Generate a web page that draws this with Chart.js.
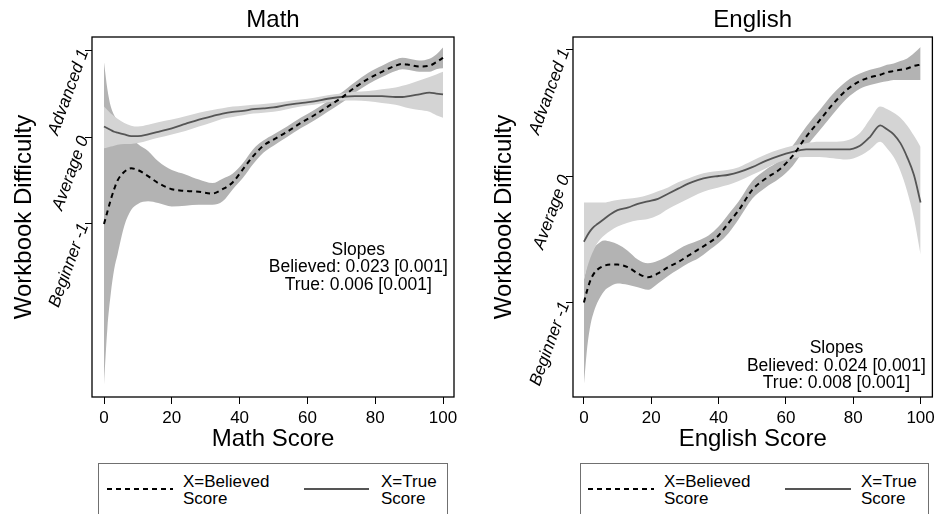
<!DOCTYPE html>
<html>
<head>
<meta charset="utf-8">
<script src="https://cdn.jsdelivr.net/npm/chart.js"></script>
<style>
    body { margin: 0; width: 939px; height: 514px; overflow: hidden; background: #fff; position: relative; font-family: 'Liberation Sans', Arial, Helvetica, sans-serif; }
    canvas { position: absolute; top: 0; }
    .leyenda { position: absolute; top: 463px; height: 70px; border: 1.5px solid #707070; box-sizing: border-box; }
    .leyenda svg { position: absolute; top: 0; left: 0; }
    .item { position: absolute; top: 9px; font-size: 17px; line-height: 17px; color: #000; }
</style>
</head>
<body>
<canvas id="ChartMath" width="470" height="455" style="left:0"></canvas>
<canvas id="ChartEnglish" width="469" height="455" style="left:470px"></canvas>

<div class="leyenda" style="left:98px; width:350px;">
    <svg width="350" height="60">
        <line x1="8" y1="25" x2="74" y2="25" stroke="#000" stroke-width="2" stroke-dasharray="5,4"></line>
        <line x1="205" y1="25" x2="270" y2="25" stroke="#555" stroke-width="2"></line>
    </svg>
    <div class="item" style="left:84px">X=Believed<br>Score</div>
    <div class="item" style="left:282px">X=True<br>Score</div>
</div>
<div class="leyenda" style="left:580px; width:349px;">
    <svg width="349" height="60">
        <line x1="7" y1="25" x2="73" y2="25" stroke="#000" stroke-width="2" stroke-dasharray="5,4"></line>
        <line x1="204" y1="25" x2="270" y2="25" stroke="#555" stroke-width="2"></line>
    </svg>
    <div class="item" style="left:83px">X=Believed<br>Score</div>
    <div class="item" style="left:280px">X=True<br>Score</div>
</div>

<script>
// Datos del panel Math
const mathX = [0, 1, 2, 3, 4, 6, 8, 10, 13, 16, 20, 24, 28, 32, 35, 38, 41, 44, 47, 50, 54, 58, 62, 66, 70, 74, 78, 82, 86, 88, 90, 93, 96, 98, 100];
const mathBelieved = [-1.00, -0.86, -0.72, -0.60, -0.50, -0.40, -0.36, -0.38, -0.45, -0.53, -0.60, -0.62, -0.63, -0.65, -0.60, -0.52, -0.37, -0.22, -0.10, -0.03, 0.06, 0.16, 0.25, 0.35, 0.45, 0.57, 0.67, 0.75, 0.82, 0.84, 0.83, 0.81, 0.82, 0.86, 0.91];
const mathBelievedHi = [0.86, 0.55, 0.35, 0.25, 0.18, 0.08, 0.00, -0.08, -0.16, -0.28, -0.38, -0.43, -0.49, -0.53, -0.48, -0.42, -0.30, -0.14, -0.04, 0.03, 0.12, 0.22, 0.31, 0.41, 0.51, 0.63, 0.74, 0.82, 0.89, 0.91, 0.90, 0.88, 0.90, 0.95, 1.03];
const mathBelievedLo = [-2.85, -2.20, -1.80, -1.52, -1.35, -1.02, -0.84, -0.77, -0.74, -0.76, -0.80, -0.79, -0.78, -0.78, -0.74, -0.60, -0.47, -0.31, -0.18, -0.10, 0.00, 0.10, 0.19, 0.29, 0.39, 0.51, 0.61, 0.69, 0.76, 0.78, 0.77, 0.75, 0.75, 0.78, 0.79];
const mathTrue = [0.12, 0.10, 0.08, 0.06, 0.05, 0.03, 0.01, 0.01, 0.03, 0.06, 0.10, 0.15, 0.20, 0.24, 0.27, 0.29, 0.30, 0.32, 0.33, 0.34, 0.37, 0.39, 0.41, 0.44, 0.46, 0.47, 0.47, 0.47, 0.46, 0.46, 0.47, 0.49, 0.51, 0.50, 0.49];
const mathTrueHi = [0.35, 0.31, 0.27, 0.24, 0.21, 0.16, 0.13, 0.12, 0.14, 0.17, 0.20, 0.24, 0.28, 0.31, 0.33, 0.35, 0.36, 0.37, 0.38, 0.39, 0.41, 0.43, 0.45, 0.48, 0.50, 0.52, 0.53, 0.55, 0.57, 0.59, 0.61, 0.65, 0.69, 0.72, 0.75];
const mathTrueLo = [-0.13, -0.12, -0.11, -0.10, -0.09, -0.08, -0.08, -0.07, -0.04, -0.01, 0.03, 0.07, 0.12, 0.17, 0.21, 0.23, 0.25, 0.27, 0.28, 0.29, 0.32, 0.35, 0.37, 0.40, 0.42, 0.42, 0.41, 0.39, 0.37, 0.35, 0.33, 0.31, 0.29, 0.25, 0.22];
const mathSlopes = ['Slopes', 'Believed: 0.023 [0.001]', 'True: 0.006 [0.001]'];

// Datos del panel English
const engX = [0, 1, 2, 3, 4, 6, 8, 10, 13, 16, 19, 22, 25, 28, 31, 34, 37, 40, 43, 46, 50, 54, 58, 62, 66, 70, 74, 78, 82, 85, 88, 90, 92, 94, 96, 98, 100];
const engBelieved = [-1.00, -0.90, -0.82, -0.77, -0.74, -0.71, -0.70, -0.70, -0.72, -0.77, -0.80, -0.77, -0.72, -0.68, -0.63, -0.58, -0.53, -0.47, -0.37, -0.27, -0.11, -0.02, 0.05, 0.16, 0.31, 0.44, 0.57, 0.68, 0.75, 0.78, 0.80, 0.82, 0.83, 0.84, 0.85, 0.87, 0.88];
const engBelievedHi = [-0.82, -0.70, -0.62, -0.57, -0.54, -0.51, -0.52, -0.54, -0.59, -0.66, -0.69, -0.67, -0.63, -0.58, -0.54, -0.51, -0.47, -0.40, -0.30, -0.20, -0.04, 0.05, 0.12, 0.24, 0.39, 0.52, 0.65, 0.75, 0.81, 0.84, 0.86, 0.88, 0.89, 0.91, 0.93, 0.97, 1.02];
const engBelievedLo = [-1.65, -1.35, -1.17, -1.07, -1.00, -0.91, -0.87, -0.85, -0.86, -0.88, -0.90, -0.85, -0.79, -0.74, -0.69, -0.65, -0.59, -0.53, -0.45, -0.34, -0.18, -0.09, -0.02, 0.08, 0.23, 0.36, 0.49, 0.61, 0.69, 0.72, 0.74, 0.75, 0.76, 0.76, 0.76, 0.76, 0.76];
const engTrue = [-0.52, -0.47, -0.43, -0.40, -0.38, -0.34, -0.30, -0.27, -0.25, -0.22, -0.20, -0.18, -0.14, -0.10, -0.06, -0.03, -0.01, 0.00, 0.01, 0.03, 0.07, 0.12, 0.16, 0.19, 0.21, 0.21, 0.21, 0.21, 0.24, 0.31, 0.40, 0.37, 0.33, 0.26, 0.15, 0.01, -0.21];
const engTrueHi = [-0.21, -0.21, -0.21, -0.21, -0.21, -0.21, -0.20, -0.19, -0.18, -0.17, -0.15, -0.12, -0.09, -0.05, -0.02, 0.01, 0.03, 0.04, 0.05, 0.07, 0.12, 0.17, 0.21, 0.24, 0.26, 0.27, 0.27, 0.28, 0.34, 0.45, 0.55, 0.53, 0.50, 0.46, 0.40, 0.32, 0.23];
const engTrueLo = [-0.82, -0.72, -0.64, -0.58, -0.53, -0.47, -0.43, -0.40, -0.37, -0.35, -0.34, -0.31, -0.26, -0.22, -0.18, -0.14, -0.11, -0.09, -0.07, -0.04, 0.01, 0.06, 0.11, 0.14, 0.15, 0.15, 0.14, 0.13, 0.16, 0.21, 0.27, 0.22, 0.15, 0.04, -0.12, -0.33, -0.62];
const engSlopes = ['Slopes', 'Believed: 0.024 [0.001]', 'True: 0.008 [0.001]'];

// Ticks
const xTicks = [0, 20, 40, 60, 80, 100];
const yTicks = [-1, 0, 1];
const yTickLabels = ['Beginner -1', 'Average 0', 'Advanced 1'];

const FUENTE = "'Liberation Sans', Arial, Helvetica, sans-serif";
const COLOR_OSCURO = '#b3b3b3';
const COLOR_CLARO = '#d4d4d4';

function puntos(xs, ys) {
    return xs.map((x, i) => ({ x: x, y: ys[i] }));
}

// Plugin: marco del area del grafico
const marco = {
    id: 'marco',
    afterDatasetsDraw(chart) {
        const a = chart.chartArea;
        const ctx = chart.ctx;
        ctx.save();
        ctx.strokeStyle = '#000';
        ctx.lineWidth = 1.3;
        ctx.strokeRect(a.left, a.top, a.right - a.left, a.bottom - a.top);
        ctx.restore();
    }
};

// Plugin: texto de pendientes
const pendientes = {
    id: 'pendientes',
    afterDatasetsDraw(chart, args, opts) {
        const ctx = chart.ctx;
        const cx = chart.scales.x.getPixelForValue(opts.x);
        const cy = chart.scales.y.getPixelForValue(opts.y);
        ctx.save();
        ctx.fillStyle = '#000';
        ctx.font = '17.5px ' + FUENTE;
        ctx.textAlign = 'center';
        ctx.textBaseline = 'middle';
        opts.lineas.forEach((t, i) => {
            ctx.fillText(t, cx, cy + (i - 1) * 17.5);
        });
        ctx.restore();
    }
};

function crearGrafico(id, cfg) {
    const banda = (ys, color, fill) => ({
        data: puntos(cfg.xs, ys),
        borderWidth: 0,
        pointRadius: 0,
        backgroundColor: color,
        fill: fill,
        cubicInterpolationMode: 'monotone'
    });
    const ctx = document.getElementById(id).getContext('2d');
    return new Chart(ctx, {
        type: 'line',
        data: {
            datasets: [
                {
                    data: puntos(cfg.xs, cfg.believed),
                    borderColor: '#000',
                    borderWidth: 2,
                    borderDash: [5, 4],
                    pointRadius: 0,
                    fill: false,
                    cubicInterpolationMode: 'monotone'
                },
                {
                    data: puntos(cfg.xs, cfg.verdad),
                    borderColor: '#555',
                    borderWidth: 1.8,
                    pointRadius: 0,
                    fill: false,
                    cubicInterpolationMode: 'monotone'
                },
                banda(cfg.verdadHi, COLOR_CLARO, '+1'),
                banda(cfg.verdadLo, COLOR_CLARO, false),
                banda(cfg.believedHi, COLOR_OSCURO, '+1'),
                banda(cfg.believedLo, COLOR_OSCURO, false)
            ]
        },
        options: {
            responsive: false,
            devicePixelRatio: 1,
            animation: false,
            layout: { padding: { left: 0, right: cfg.padDer, top: 0, bottom: 0 } },
            scales: {
                x: {
                    type: 'linear',
                    min: cfg.xMin,
                    max: cfg.xMax,
                    afterBuildTicks: s => { s.ticks = xTicks.map(v => ({ value: v })); },
                    afterFit: s => { s.height = 58; },
                    grid: { drawOnChartArea: false, drawTicks: true, tickLength: 7, color: '#000' },
                    border: { display: false },
                    ticks: { color: '#000', font: { family: FUENTE, size: 17 }, padding: 4, maxRotation: 0 },
                    title: { display: true, text: cfg.tituloX, color: '#000', font: { family: FUENTE, size: 24 }, padding: { top: 0, bottom: 1.6 } }
                },
                y: {
                    type: 'linear',
                    min: cfg.yMin,
                    max: cfg.yMax,
                    afterBuildTicks: s => { s.ticks = yTicks.map(v => ({ value: v })); },
                    afterFit: s => { s.width = cfg.anchoY; },
                    grid: { drawOnChartArea: false, drawTicks: true, tickLength: 7, color: '#000' },
                    border: { display: false },
                    ticks: {
                        color: '#000',
                        font: { family: FUENTE, size: 17, style: 'italic' },
                        padding: 1,
                        minRotation: 70,
                        maxRotation: 70,
                        autoSkip: false,
                        callback: v => yTickLabels[yTicks.indexOf(v)]
                    },
                    title: { display: true, text: 'Workbook Difficulty', color: '#000', font: { family: FUENTE, size: 24 }, padding: { top: cfg.padTituloY, bottom: 0 } }
                }
            },
            plugins: {
                legend: { display: false },
                tooltip: { enabled: false },
                title: {
                    display: true,
                    fullSize: false,
                    text: cfg.titulo,
                    color: '#000',
                    font: { family: FUENTE, size: 24, weight: 'normal' },
                    padding: { top: 6, bottom: 2.2 }
                },
                pendientes: { x: 75, y: -1.5, lineas: cfg.slopes }
            }
        },
        plugins: [marco, pendientes]
    });
}

document.addEventListener('DOMContentLoaded', function () {
    crearGrafico('ChartMath', {
        titulo: 'Math', tituloX: 'Math Score',
        xs: mathX, believed: mathBelieved, believedHi: mathBelievedHi, believedLo: mathBelievedLo,
        verdad: mathTrue, verdadHi: mathTrueHi, verdadLo: mathTrueLo,
        slopes: mathSlopes,
        xMin: -3.54, xMax: 103.24, yMin: -2.99, yMax: 1.15,
        anchoY: 92, padDer: 16, padTituloY: 10.3
    });
    crearGrafico('ChartEnglish', {
        titulo: 'English', tituloX: 'English Score',
        xs: engX, believed: engBelieved, believedHi: engBelievedHi, believedLo: engBelievedLo,
        verdad: engTrue, verdadHi: engTrueHi, verdadLo: engTrueLo,
        slopes: engSlopes,
        xMin: -3.24, xMax: 103.5, yMin: -1.747, yMax: 1.099,
        anchoY: 103, padDer: 3, padTituloY: 20.3
    });
});
</script>
</body>
</html>
